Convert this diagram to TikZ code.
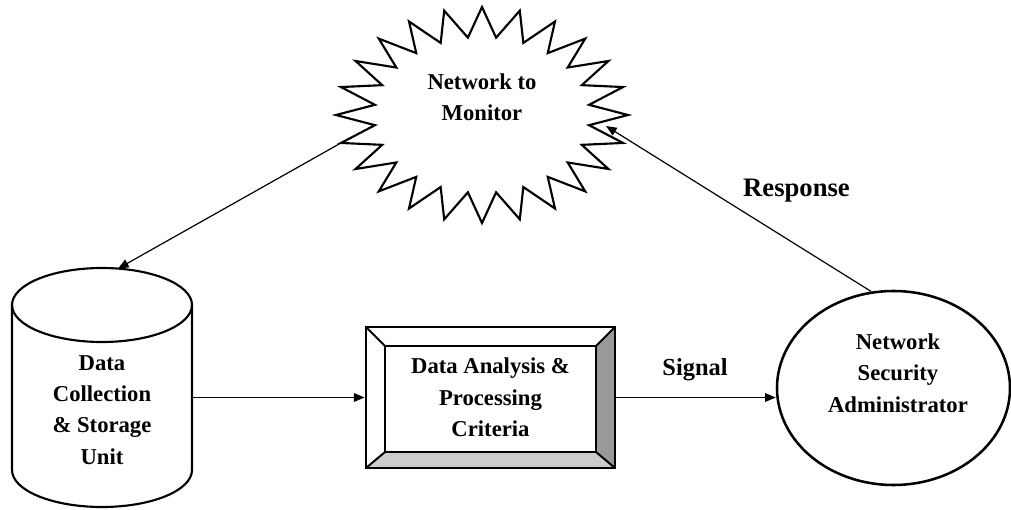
\documentclass[tikz,border=0pt]{standalone}
\usepackage{fontspec}
\setmainfont{Liberation Serif}
\usetikzlibrary{arrows.meta,shapes.geometric}
\definecolor{rface}{HTML}{999999}
\definecolor{bface}{HTML}{CCCCCC}
\begin{document}
\begin{tikzpicture}[x=0.75pt,y=-0.75pt,
  lbl/.style={font=\fontsize{17}{23.5}\selectfont\bfseries, align=center, inner sep=0pt},
  arr/.style={line width=0.9pt, -{Triangle[length=8pt,width=6.5pt]}},
  shapeline/.style={line width=1.6pt},
  bevelline/.style={line width=1.5pt},
  ghost/.style={draw=none, inner sep=0pt, outer sep=0pt}]
\useasboundingbox (0,0) rectangle (1011,510);

% starburst: Network to Monitor
\draw[shapeline, line join=miter, shift={(482,115)}] (0,-108)
  \foreach \i [evaluate=\i as \a using 90+7.5*\i,
               evaluate=\i as \rx using {mod(\i,2)==0 ? 146 : 108},
               evaluate=\i as \ry using {mod(\i,2)==0 ? 108 : 78}] in {1,...,47}
  { -- ({\rx*cos(\a)},{-\ry*sin(\a)}) } -- cycle;
\coordinate (bl) at ({482+146*cos(165)},{115+108*sin(165)});
\coordinate (br) at (606,126);
\node[lbl] (ntm) at (482,97) {Network to\\Monitor};

% cylinder: Data Collection & Storage Unit
\draw[shapeline] (12,305) -- (12,470) arc[start angle=180, end angle=360, x radius=67.5pt, y radius=27.75pt] -- (192,305);
\draw[shapeline] (102,305) ellipse[x radius=67.5pt, y radius=27.75pt];
\node[ghost, minimum width=135pt, minimum height=100pt] (dcs) at (102,395) {};
\coordinate (dcstop) at (118,268.6);
\node[lbl] (dcst) at (102,410) {Data\\Collection\\\& Storage\\Unit};

% bevel box: Data Analysis & Processing Criteria
\fill[rface] (615,327) -- (615,468) -- (596,452) -- (596,346) -- cycle;
\fill[bface] (366,468) -- (615,468) -- (596,452) -- (385,452) -- cycle;
\draw[bevelline] (366,327) -- (385,346) (615,327) -- (596,346)
                 (366,468) -- (385,452) (615,468) -- (596,452);
\draw[bevelline] (385,346) rectangle (596,452);
\node[draw, line width=2.2pt, minimum width=186.75pt, minimum height=105.75pt, inner sep=0pt, lbl]
  (dap) at (490.5,397.5) {Data Analysis \&\\Processing\\Criteria};

% ellipse: Network Security Administrator
\node[draw, ellipse, line width=1.9pt, minimum width=174.75pt, minimum height=145.5pt, inner sep=0pt]
  (nsa) at (893.5,388) {};
\node[lbl] (nsat) at (898,373) {Network\\Security\\Administrator};

% connectors
\draw[arr] (bl) -- (dcstop);
\draw[arr] (dcs.east |- dap.west) -- (dap.west);
\draw[arr] (dap.east) -- (dap.east -| nsa.west);
\draw[arr] (nsa.103) -- (br);

% labels
\node[lbl, font=\fontsize{18.3}{22}\selectfont\bfseries] (sig) at (695,370) {Signal};
\node[lbl, font=\fontsize{20}{24}\selectfont\bfseries] (resp) at (796.5,191) {Response};
\end{tikzpicture}
\end{document}
